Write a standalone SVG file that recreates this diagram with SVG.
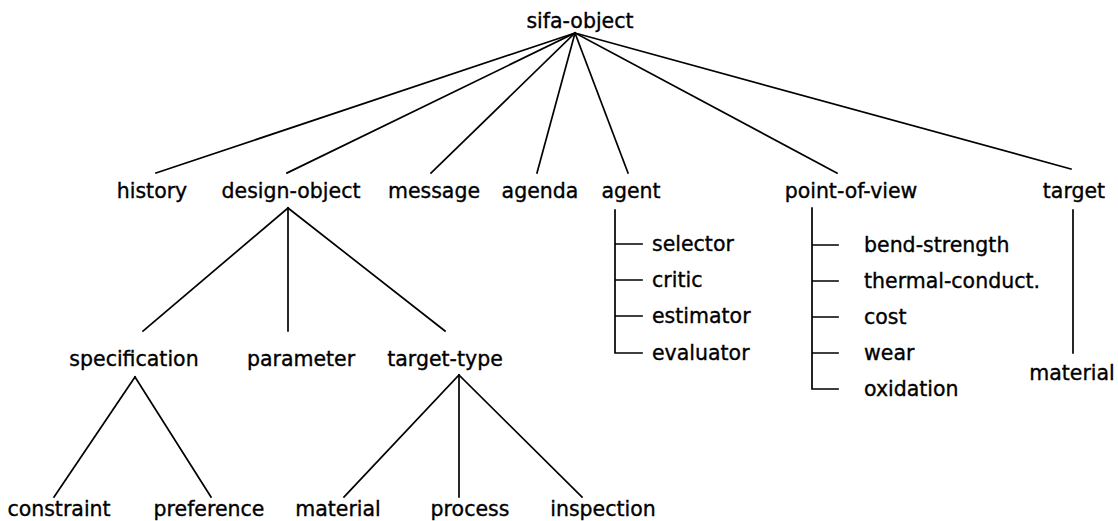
<svg xmlns="http://www.w3.org/2000/svg" width="1118" height="521" viewBox="0 0 1118 521">
  <style>
    .bg { fill: #ffffff; }
    .edge { stroke: #000000; stroke-width: 1.7; fill: none; stroke-linecap: square; }
    text { font-family: "DejaVu Sans", "Liberation Sans", sans-serif; font-size: 20.5px; fill: #000000; stroke: #000000; stroke-width: 0.35; }
    .c { text-anchor: middle; }
    .s { text-anchor: start; }
  </style>
  <rect class="bg" x="0" y="0" width="1118" height="521"/>

  <!-- connectors -->
  <g id="connectors">
    <!-- root to first level -->
    <line class="edge" x1="575" y1="33" x2="156" y2="173"/>
    <line class="edge" x1="575" y1="33" x2="287" y2="173"/>
    <line class="edge" x1="575" y1="33" x2="431" y2="173"/>
    <line class="edge" x1="575" y1="33" x2="537" y2="173"/>
    <line class="edge" x1="575" y1="33" x2="628" y2="173"/>
    <line class="edge" x1="575" y1="33" x2="837" y2="173"/>
    <line class="edge" x1="575" y1="33" x2="1071" y2="169"/>
    <!-- design-object branches -->
    <line class="edge" x1="288" y1="208" x2="143" y2="331"/>
    <line class="edge" x1="288" y1="208" x2="288" y2="331"/>
    <line class="edge" x1="288" y1="208" x2="445" y2="331"/>
    <!-- specification branches -->
    <line class="edge" x1="135" y1="377" x2="54" y2="497"/>
    <line class="edge" x1="135" y1="377" x2="211" y2="497"/>
    <!-- target-type branches -->
    <line class="edge" x1="459" y1="375" x2="344" y2="497"/>
    <line class="edge" x1="459" y1="375" x2="459" y2="497"/>
    <line class="edge" x1="459" y1="375" x2="582" y2="497"/>
    <!-- agent list -->
    <path class="edge" d="M615 210 V353 H642 M615 244 H642 M615 280 H642 M615 316 H642"/>
    <!-- point-of-view list -->
    <path class="edge" d="M812 208 V389 H838 M812 245 H838 M812 281 H838 M812 317 H838 M812 353 H838"/>
    <!-- target to material -->
    <line class="edge" x1="1073" y1="210" x2="1073" y2="353"/>
  </g>

  <g id="sifa-object"><text class="c" x="580" y="28">sifa-object</text></g>

  <g id="history"><text class="c" x="152" y="198">history</text></g>
  <g id="design-object"><text class="c" x="291" y="198">design-object</text></g>
  <g id="message"><text class="c" x="434" y="198">message</text></g>
  <g id="agenda"><text class="c" x="540" y="198">agenda</text></g>
  <g id="agent"><text class="c" x="631" y="198">agent</text></g>
  <g id="point-of-view"><text class="c" x="851" y="198">point-of-view</text></g>
  <g id="target"><text class="c" x="1074" y="198">target</text></g>

  <g id="specification"><text class="c" x="134" y="366">specification</text></g>
  <g id="parameter"><text class="c" x="301" y="366">parameter</text></g>
  <g id="target-type"><text class="c" x="445" y="366">target-type</text></g>

  <g id="constraint"><text class="c" x="59" y="516">constraint</text></g>
  <g id="preference"><text class="c" x="209" y="516">preference</text></g>
  <g id="material-type"><text class="c" x="338" y="516">material</text></g>
  <g id="process"><text class="c" x="470" y="516">process</text></g>
  <g id="inspection"><text class="c" x="603" y="516">inspection</text></g>

  <g id="selector"><text class="s" x="652" y="251">selector</text></g>
  <g id="critic"><text class="s" x="652" y="287">critic</text></g>
  <g id="estimator"><text class="s" x="652" y="323">estimator</text></g>
  <g id="evaluator"><text class="s" x="652" y="360">evaluator</text></g>

  <g id="bend-strength"><text class="s" x="864" y="252">bend-strength</text></g>
  <g id="thermal-conduct"><text class="s" x="864" y="288">thermal-conduct.</text></g>
  <g id="cost"><text class="s" x="864" y="324">cost</text></g>
  <g id="wear"><text class="s" x="864" y="360">wear</text></g>
  <g id="oxidation"><text class="s" x="864" y="396">oxidation</text></g>

  <g id="material-target"><text class="c" x="1072" y="380">material</text></g>
</svg>
